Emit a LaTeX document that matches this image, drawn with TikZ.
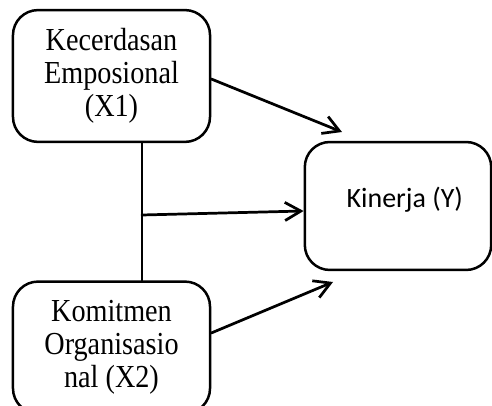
\documentclass[tikz,border=0pt]{standalone}
\usepackage{fontspec}
\setmainfont{Liberation Serif}
\newfontfamily\tinggifont[FakeStretch=0.88]{Liberation Serif}
\newfontfamily\calibrifont{Carlito}
\usepackage{tikz}
\usetikzlibrary{arrows.meta}
\usetikzlibrary{shapes,positioning}
\tikzset{>={Straight Barb[length=7pt,width=8pt]},
  kotak/.style={draw,line width=1.1pt,rounded corners=11pt,align=center,
    minimum width=86.7pt,minimum height=58pt,inner sep=2pt,
    font=\tinggifont\fontsize{14.1}{14.6}\selectfont},
  panah/.style={->,line width=1.2pt}}

\begin{document}
\begin{tikzpicture}[x=0.44pt,y=-0.44pt,line cap=round]

  \useasboundingbox (0,0) rectangle (492,406);

  \node [kotak] (xsatu) at (111.5,76) {Kecerdasan\\Emposional\\(X1)};
  \node [kotak] (xdua) at (111.5,347.5) {Komitmen\\Organisasio\\nal (X2)};
  \node [kotak,minimum width=82pt,minimum height=56.3pt,
    font=\calibrifont\fontsize{12.3}{14}\selectfont] (y) at (398,206)
    {\hspace*{6pt}\raisebox{8pt}{Kinerja (Y)}};

  \coordinate (atas) at (142,142);
  \coordinate (bawah) at (142,283);
  \coordinate (tengah) at (142,215);
  \coordinate (ujungsatu) at (342,132);
  \coordinate (ujungdua) at (333,282);

  \draw [line width=1.2pt] (xsatu.south -| atas) -- (xdua.north -| bawah);
  \draw [panah] (tengah) -- (y.west |- 0,211);
  \draw [panah] (xsatu.east |- 0,79) -- (ujungsatu);
  \draw [panah] (xdua.east |- 0,333) -- (ujungdua);

\end{tikzpicture}
\end{document}
